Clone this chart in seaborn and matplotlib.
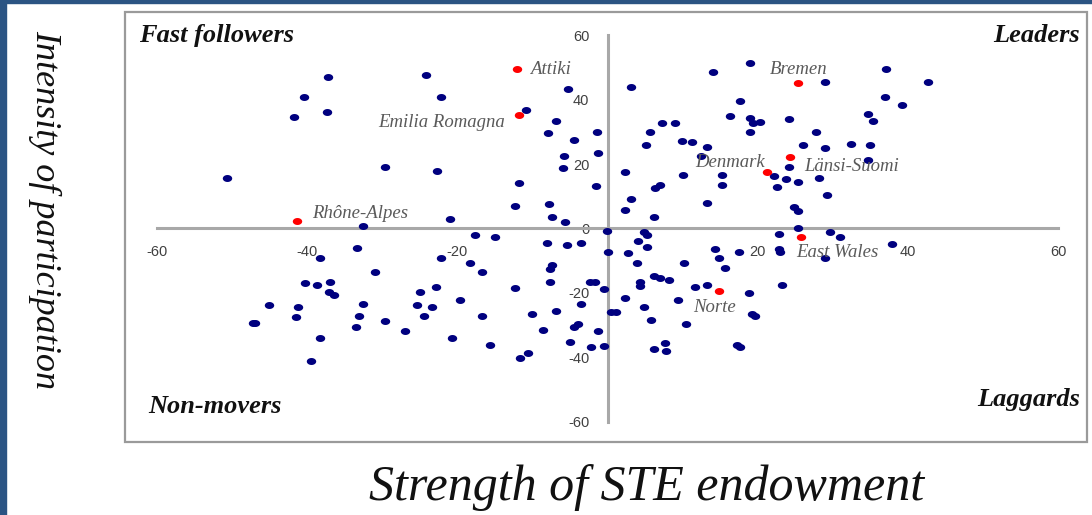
import numpy as np
import pandas as pd
import matplotlib
matplotlib.use("Agg")
import matplotlib.pyplot as plt
from matplotlib.patches import Rectangle
from matplotlib.path import Path
import seaborn as sns

# regions (blue dots) - strength of STE endowment (x) vs intensity of participation (y)
strength = [
    -50.6, -37.2, -40.4, -41.7, -37.3, -24.1, -22.1, -29.6, -22.7, -32.5, -21.0, -11.8, -12.3,
    -7.8, -7.4, -5.6, -5.2, -10.9, -6.8, -7.9, -4.5, -1.4, -1.2, -5.8, -5.9, -1.5,
    2.3, 2.3, 18.9, 14.1, 3.1, 28.9, 37.1, 42.6, 36.9, 39.2, 17.6, 16.3, 19.0, 19.4, 20.3,
    24.1, 18.9, 7.2, 9.0, 5.7, 5.1, 9.9, 11.3, 13.2, 12.5, 26.0, 27.7, 28.9, 32.4, 34.9,
    34.6, 35.3, 34.6, 10.0, 6.3, 7.0, 15.2, 15.3, 22.2, 23.8, 22.5, 24.1, 25.4, 28.2, 29.2,
    3.1, 6.2, 13.2, 24.8, 25.3, 25.3,
    -0.1, -17.6, -15.0, -8.0, -5.4, -3.5, 0.0, -33.3, -38.3, -22.1, -18.3, -16.7, -30.9,
    -7.4, -7.7, -40.3, -38.6, -36.9, -37.0, -36.4, -22.8, -25.0, -12.3, -7.6, -2.3, -1.7,
    -0.4, -45.1, -41.2, -41.5, -32.5, -33.0, -33.4, -29.6, -25.4, -23.4, -24.4, -27.0,
    -19.6, -16.7, -20.7, -15.7, -10.1, -6.8, -3.5, -8.6, -4.5, -3.9, -1.2, -5.0, -2.2,
    -0.5, -11.6, -10.6, -47.2, -46.9, -38.3, -39.4,
    0.4, 1.1, 4.8, 5.3, 4.1, 5.3, 2.7, 3.9, 10.2, 14.3, 14.8, 15.6, 17.5, 22.8, 22.8, 23.0,
    29.6, 30.9, 28.9, 37.9, 4.3, 4.3, 6.2, 7.0, 8.2, 2.3, 4.9, 5.8, 9.4, 11.6, 13.3, 18.8,
    23.2, 10.4, 19.2, 19.6, 6.2, 7.6, 7.8, 17.2, 17.6,
]
intensity = [
    15.6, 47.1, 40.7, 34.5, 36.3, 47.5, 40.7, 19.2, 17.9, 0.8, 3.0, 14.2, 7.1,
    7.5, 3.7, 2.1, 43.2, 36.9, 33.5, 29.6, 27.5, 29.8, 23.5, 22.5, 18.7, 13.3,
    17.5, 5.7, 51.3, 48.5, 43.9, 45.6, 49.4, 45.5, 40.7, 38.4, 39.6, 35.0, 34.2, 32.8, 33.0,
    34.0, 30.0, 32.6, 32.6, 30.0, 25.9, 27.2, 26.9, 25.2, 22.6, 25.9, 30.0, 24.9, 26.2, 25.9,
    35.6, 33.3, 21.3, 16.6, 12.5, 13.5, 16.6, 13.5, 16.3, 15.3, 13.0, 19.2, 14.5, 15.6, 10.4,
    9.1, 3.4, 8.0, 6.8, 5.4, 0.0,
    -0.8, -2.0, -2.5, -4.6, -5.2, -4.6, -7.2, -6.1, -9.2, -9.2, -10.8, -13.6, -13.6,
    -11.5, -12.7, -16.8, -17.5, -16.5, -19.6, -20.6, -18.1, -19.7, -18.5, -16.7, -16.7, -16.7,
    -18.8, -23.9, -24.3, -27.6, -23.4, -27.1, -30.5, -28.7, -23.9, -24.3, -27.1, -31.7,
    -22.3, -27.1, -34.1, -36.2, -26.5, -25.5, -23.4, -31.5, -30.6, -29.7, -31.7, -35.4, -36.9,
    -36.6, -40.2, -38.7, -29.3, -29.3, -34.0, -41.1,
    -25.9, -25.9, -1.0, -2.0, -3.8, -5.7, -7.5, -10.6, -10.6, -6.5, -9.3, -12.4, -7.2, -1.8, -6.5, -7.4,
    -1.2, -2.6, -9.3, -4.9, -16.7, -18.0, -14.7, -15.4, -15.9, -21.5, -24.5, -28.4, -22.2, -18.2, -17.5, -20.1,
    -17.5, -29.7, -26.6, -27.1, -37.3, -35.6, -38.2, -36.1, -36.8,
]

# highlighted regions (red dots)
named_regions = ["Attiki", "Emilia Romagna", "Rhône-Alpes", "Bremen",
                 "Länsi-Suomi", "Denmark", "East Wales", "Norte"]
named_strength = [-12.0, -11.8, -41.3, 25.3, 24.3, 21.2, 25.7, 14.8]
named_intensity = [49.4, 35.2, 2.4, 45.1, 22.1, 17.4, -2.8, -19.5]

quadrants = ["Fast followers", "Leaders", "Non-movers", "Laggards"]
x_ticks = [-60, -40, -20, 20, 40, 60]
y_ticks = [-60, -40, -20, 0, 20, 40, 60]

others = pd.DataFrame({"x": strength, "y": intensity})
named = pd.DataFrame({"x": named_strength, "y": named_intensity, "name": named_regions})

sns.set_style("white")
plt.rcParams["font.family"] = ["Liberation Serif", "DejaVu Serif"]
plt.rcParams["axes.unicode_minus"] = False

fig = plt.figure(figsize=(10.92, 5.15), dpi=100)
W, H = 1092, 515
ax = fig.add_axes([125 / W, 1 - 442 / H, (1087 - 125) / W, (442 - 12) / H])
ax.set_xlim(-64.2, 63.8)
ax.set_ylim(-66.3, 67.2)

# slightly wide oval dots like the source picture
t = np.linspace(0, 2 * np.pi, 40)
oval = Path(np.column_stack([1.35 * np.cos(t), np.sin(t)]))

sns.scatterplot(data=others, x="x", y="y", ax=ax, color="#00007f", marker=oval,
                s=46, linewidth=0, zorder=3)
sns.scatterplot(data=named, x="x", y="y", ax=ax, color="#ff0000", marker=oval,
                s=46, linewidth=0, zorder=4)

# label placement (offset in points, alignment)
label_pos = {
    "Attiki": ((9, 0), "left"),
    "Emilia Romagna": ((-10, -5), "right"),
    "Rhône-Alpes": ((11, 5), "left"),
    "Bremen": ((1, 9.5), "center"),
    "Länsi-Suomi": ((10, -7), "left"),
    "Denmark": ((-1, 7), "right"),
    "East Wales": ((-3, -11), "left"),
    "Norte": ((-3, -11.5), "center"),
}
for _, r in named.iterrows():
    off, ha = label_pos[r["name"]]
    ax.annotate(r["name"], (r["x"], r["y"]), xytext=off, textcoords="offset points",
                ha=ha, va="center", fontsize=13.5, style="italic", color="#5a5a5a", zorder=5)

# axes crossing at the origin
for side in ["top", "right"]:
    ax.spines[side].set_visible(False)
ax.spines["left"].set_position(("data", 0))
ax.spines["bottom"].set_position(("data", 0))
ax.spines["left"].set_bounds(-60, 60)
ax.spines["bottom"].set_bounds(-60, 60)
for side in ["left", "bottom"]:
    ax.spines[side].set_color("#a8a8a8")
    ax.spines[side].set_linewidth(2.2)
    ax.spines[side].set_zorder(2)

ax.set_xticks(x_ticks)
ax.set_yticks(y_ticks)
ax.tick_params(axis="x", direction="out", length=4, width=1, color="#a0a0a0", pad=8,
               labelsize=10.5, labelcolor="#404040")
ax.tick_params(axis="y", direction="out", length=5, width=1, color="#a0a0a0", pad=8,
               labelsize=10.5, labelcolor="#404040")
for lab in ax.get_xticklabels() + ax.get_yticklabels():
    lab.set_fontfamily(["Liberation Sans", "DejaVu Sans"])
ax.set_xlabel("")
ax.set_ylabel("")

# outer frame of the plot area
ax.add_patch(Rectangle((0, 0), 1, 1, transform=ax.transAxes, fill=False,
                       edgecolor="#9a9a9a", linewidth=1.6, clip_on=False, zorder=1))

# quadrant names
qkw = dict(style="italic", fontsize=19, fontweight="bold", color="#111111",
           transform=ax.transAxes)
ax.text(0.015, 0.945, quadrants[0], ha="left", va="center", **qkw)
ax.text(0.993, 0.945, quadrants[1], ha="right", va="center", **qkw)
ax.text(0.024, 0.082, quadrants[2], ha="left", va="center", **qkw)
ax.text(0.993, 0.098, quadrants[3], ha="right", va="center", **qkw)

# axis titles
fig.text(647 / W, 1 - 488 / H, "Strength of STE endowment", ha="center", va="center",
         fontsize=36, style="italic", color="#111111")
fig.text(45 / W, 1 - 210 / H, "Intensity of participation", ha="center", va="center",
         rotation=-90, fontsize=26, style="italic", color="#111111")

# slide border strips
fig.patches.append(Rectangle((0, 0), 6 / W, 1, transform=fig.transFigure,
                             color="#2b5483", zorder=0))
fig.patches.append(Rectangle((0, 1 - 2.5 / H), 1, 2.5 / H, transform=fig.transFigure,
                             color="#2b5483", zorder=0))

fig.savefig("out.png", dpi=100, facecolor="white")
